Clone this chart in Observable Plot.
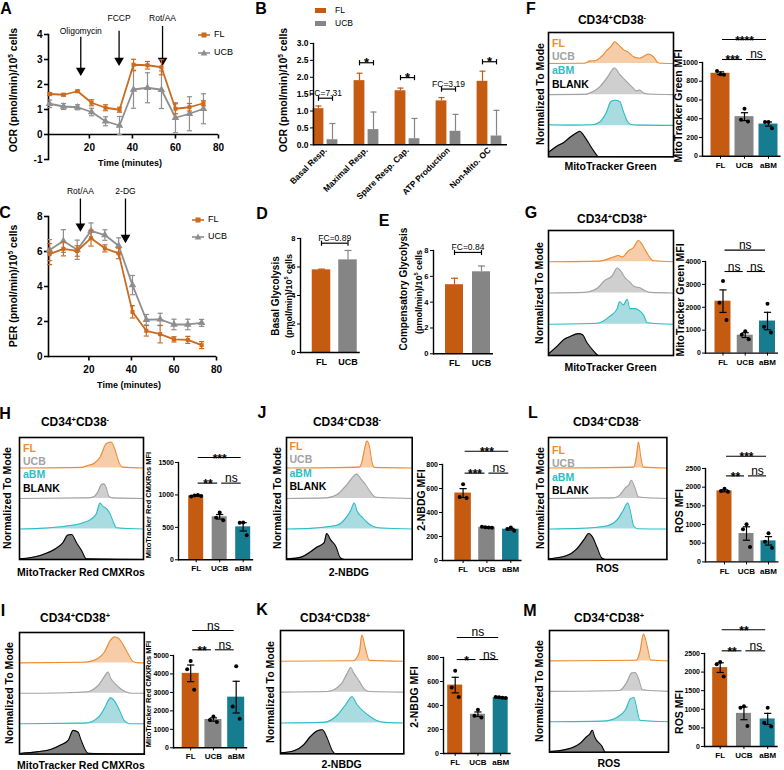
<!DOCTYPE html>
<html><head><meta charset="utf-8">
<script src="https://cdn.jsdelivr.net/npm/d3@7"></script>
<script src="https://cdn.jsdelivr.net/npm/@observablehq/plot@0.6"></script>
<style>
body{margin:0;background:#fff;}
#fig{position:relative;width:784px;height:770px;overflow:hidden;background:#fff;font-family:"Liberation Sans",Arial,Helvetica,sans-serif;}
.t{position:absolute;white-space:nowrap;line-height:1;}
sup{font-size:0.62em;vertical-align:0.55em;line-height:0;}
</style></head><body><div id="fig"></div><script>
// ================= DATA =================
const timeMin = [1.5, 8, 14.5, 21, 27.5, 34, 40.5, 47, 53.5, 60, 66.5, 73];
const ocrFL     = [1.62, 1.59, 1.73, 1.27, 1.07, 0.99, 2.79, 2.77, 2.69, 1.03, 1.09, 1.25];
const ocrFLsem  = [0.06, 0.05, 0.04, 0.12, 0.12, 0.10, 0.22, 0.15, 0.30, 0.20, 0.15, 0.10];
const ocrUCB    = [1.23, 1.12, 1.09, 0.90, 0.53, 0.36, 1.80, 1.87, 1.79, 0.67, 0.83, 1.03];
const ocrUCBsem = [0.15, 0.12, 0.10, 0.15, 0.18, 0.36, 0.75, 0.60, 0.75, 0.60, 0.68, 0.60];
const perFL     = [5.85, 6.15, 6.03, 6.76, 6.18, 5.89, 2.55, 1.47, 1.28, 0.98, 0.95, 0.65];
const perFLsem  = [0.60, 0.40, 0.30, 0.45, 0.20, 0.30, 0.35, 0.30, 0.50, 0.15, 0.20, 0.20];
const perUCB    = [6.08, 6.60, 6.10, 7.18, 6.94, 6.33, 4.08, 2.10, 2.12, 1.83, 1.83, 1.92];
const perUCBsem = [0.60, 0.65, 0.55, 0.45, 0.30, 0.45, 0.55, 0.30, 0.35, 0.30, 0.30, 0.20];
const injA = [{name: "Oligomycin", t: 16, y1: 3.89, y2: 2.6, ty: 4.13},
              {name: "FCCP", t: 33.8, y1: 4.13, y2: 3.0, ty: 4.63},
              {name: "Rot/AA", t: 54, y1: 4.32, y2: 3.0, ty: 4.63}];
const injC = [{name: "Rot/AA", t: 16, y1: 9.0, y2: 7.5, ty: 9.47},
              {name: "2-DG", t: 37.2, y1: 9.0, y2: 6.85, ty: 9.47}];
const xTicksTime = [20, 40, 60, 80];

const paramCats = ["Basal Resp.", "Maximal Resp.", "Spare Resp. Cap.", "ATP Production", "Non-Mito. OC"];
const paramFL     = [1.07, 1.90, 1.60, 1.30, 1.88];
const paramFLsem  = [0.08, 0.22, 0.08, 0.10, 0.30];
const paramUCB    = [0.15, 0.45, 0.18, 0.40, 0.26];
const paramUCBsem = [0.48, 0.52, 0.60, 0.50, 0.76];
const paramSig = [{i: 0, label: "FC=7.31", y: 1.38}, {i: 1, label: "*", y: 2.43}, {i: 2, label: "*", y: 1.99},
                  {i: 3, label: "FC=3.19", y: 1.65}, {i: 4, label: "*", y: 2.46}];

const glycoCats = ["FL", "UCB"];
const basalGlyco = [5.8, 6.5], basalGlycoSem = [0.05, 0.66];
const compGlyco = [5.35, 6.35], compGlycoSem = [0.5, 0.45];

const groups = ["FL", "UCB", "aBM"];
const mtgDimMean = [885, 422, 343], mtgDimSem = [15, 42, 22], mtgDimPts = [[875, 910, 870], [505, 390, 370], [366, 366, 298]];
const mtgPosMean = [2267, 783, 1400], mtgPosSem = [492, 105, 381], mtgPosPts = [[3150, 2200, 1450], [950, 800, 600], [2150, 1150, 900]];
const cmxDimMean = [988, 663, 508], cmxDimSem = [8, 35, 64], cmxDimPts = [[975, 990, 1000, 985], [730, 650, 610], [575, 570, 380]];
const cmxPosMean = [4033, 1533, 2743], cmxPosSem = [450, 88, 860], cmxPosPts = [[4700, 4250, 3150], [1700, 1500, 1400], [4420, 2240, 1570]];
const nbdgDimMean = [562, 277, 261], nbdgDimSem = [37, 3, 7], nbdgDimPts = [[635, 530, 520], [282, 277, 275, 272], [274, 262, 248]];
const nbdgPosMean = [570, 327, 466], nbdgPosSem = [65, 19, 3], nbdgPosPts = [[690, 550, 470], [365, 315, 300], [470, 468, 465, 462]];
const rosDimMean = [1902, 760, 563], rosDimSem = [25, 180, 113], rosDimPts = [[1960, 1900, 1880], [1010, 875, 400], [770, 540, 380]];
const rosPosMean = [2120, 890, 740], rosPosSem = [130, 170, 150], rosPosPts = [[2270, 2210, 1880], [1080, 1040, 550], [1040, 640, 540]];
const sigF = [{a: "FL", b: "aBM", label: "****", y: 1245}, {a: "FL", b: "UCB", label: "***", y: 1032}, {a: "UCB", b: "aBM", label: "ns", y: 1032}];
const sigG = [{a: "FL", b: "aBM", label: "ns", y: 4498}, {a: "FL", b: "UCB", label: "ns", y: 3563}, {a: "UCB", b: "aBM", label: "ns", y: 3563}];
const sigH = [{a: "FL", b: "aBM", label: "***", y: 1576}, {a: "FL", b: "UCB", label: "**", y: 1182}, {a: "UCB", b: "aBM", label: "ns", y: 1182}];
const sigI = [{a: "FL", b: "aBM", label: "ns", y: 6354}, {a: "FL", b: "UCB", label: "**", y: 5309}, {a: "UCB", b: "aBM", label: "ns", y: 5309}];
const sigJ = [{a: "FL", b: "aBM", label: "***", y: 911}, {a: "FL", b: "UCB", label: "***", y: 728}, {a: "UCB", b: "aBM", label: "ns", y: 728}];
const sigK = [{a: "FL", b: "aBM", label: "ns", y: 967}, {a: "FL", b: "UCB", label: "*", y: 783}, {a: "UCB", b: "aBM", label: "ns", y: 783}];
const sigL = [{a: "FL", b: "aBM", label: "***", y: 2829}, {a: "FL", b: "UCB", label: "**", y: 2302}, {a: "UCB", b: "aBM", label: "ns", y: 2302}];
const sigM = [{a: "FL", b: "aBM", label: "**", y: 3137}, {a: "FL", b: "UCB", label: "**", y: 2572}, {a: "UCB", b: "aBM", label: "ns", y: 2572}];

// Flow histograms: [fluorescence (0-1 of axis), normalized count (0-1 of lane)]
const histF_FL = [[0,0],[0.29,0.01],[0.33,0.08],[0.38,0.1],[0.43,0.25],[0.47,0.44],[0.5,0.55],[0.53,0.7],[0.56,0.6],[0.6,0.45],[0.64,0.36],[0.68,0.22],[0.73,0.17],[0.77,0.25],[0.8,0.31],[0.84,0.22],[0.88,0.02],[1,0]];
const histF_UCB = [[0,0],[0.3,0.01],[0.33,0.05],[0.41,0.25],[0.47,0.55],[0.53,0.86],[0.57,0.65],[0.63,0.4],[0.68,0.2],[0.7,0.12],[0.73,0.15],[0.76,0.05],[0.79,0.02],[1,0]];
const histF_aBM = [[0,0.03],[0.2,0.02],[0.35,0.03],[0.41,0.12],[0.46,0.4],[0.5,0.78],[0.53,0.82],[0.57,0.78],[0.6,0.45],[0.63,0.15],[0.66,0.04],[0.72,0.02],[1,0.01]];
const histF_BLANK = [[0,0.14],[0.07,0.35],[0.12,0.45],[0.17,0.62],[0.23,0.78],[0.25,0.82],[0.28,0.7],[0.32,0.45],[0.36,0.2],[0.4,0.01],[1,0]];
const histG_FL = [[0,0],[0.41,0.02],[0.52,0.15],[0.56,0.2],[0.59,0.15],[0.64,0.35],[0.68,0.45],[0.72,0.68],[0.75,0.55],[0.77,0.4],[0.8,0.2],[0.84,0.03],[1,0]];
const histG_UCB = [[0,0],[0.29,0.02],[0.39,0.15],[0.45,0.4],[0.51,0.55],[0.55,0.8],[0.57,0.75],[0.61,0.5],[0.65,0.35],[0.69,0.2],[0.73,0.17],[0.77,0.08],[0.81,0.02],[1,0]];
const histG_aBM = [[0,0],[0.39,0.03],[0.49,0.25],[0.55,0.5],[0.57,0.72],[0.6,0.62],[0.63,0.8],[0.65,0.5],[0.69,0.5],[0.73,0.43],[0.76,0.3],[0.79,0.05],[1,0]];
const histG_BLANK = [[0,0.05],[0.07,0.3],[0.12,0.5],[0.17,0.6],[0.24,0.7],[0.27,0.67],[0.31,0.4],[0.36,0.15],[0.4,0],[1,0]];
const histH_FL = [[0,0],[0.5,0.02],[0.55,0.08],[0.6,0.15],[0.65,0.35],[0.7,0.8],[0.74,0.85],[0.77,0.6],[0.8,0.2],[0.83,0.03],[1,0]];
const histH_UCB = [[0,0],[0.55,0.02],[0.6,0.06],[0.63,0.2],[0.66,0.45],[0.68,0.48],[0.7,0.35],[0.72,0.08],[0.75,0.02],[1,0]];
const histH_aBM = [[0,0],[0.16,0.02],[0.38,0.1],[0.51,0.2],[0.57,0.3],[0.62,0.5],[0.65,0.85],[0.67,0.75],[0.7,0.68],[0.73,0.5],[0.76,0.2],[0.78,0.04],[1,0]];
const histH_BLANK = [[0,0.02],[0.18,0.15],[0.29,0.35],[0.35,0.55],[0.39,0.8],[0.42,0.82],[0.46,0.55],[0.5,0.3],[0.54,0.02],[1,0]];
const histI_FL = [[0,0],[0.52,0.02],[0.63,0.15],[0.68,0.35],[0.73,0.75],[0.76,0.85],[0.79,0.82],[0.83,0.6],[0.87,0.3],[0.91,0.05],[0.95,0],[1,0]];
const histI_UCB = [[0,0],[0.39,0.02],[0.55,0.05],[0.6,0.15],[0.64,0.3],[0.68,0.55],[0.71,0.7],[0.73,0.5],[0.77,0.3],[0.81,0.15],[0.85,0.05],[0.9,0],[1,0]];
const histI_aBM = [[0,0],[0.53,0.02],[0.63,0.2],[0.68,0.5],[0.71,0.75],[0.73,0.85],[0.76,0.75],[0.8,0.45],[0.84,0.1],[0.88,0],[1,0]];
const histI_BLANK = [[0,0.02],[0.15,0.08],[0.25,0.15],[0.33,0.3],[0.39,0.45],[0.43,0.78],[0.47,0.72],[0.49,0.5],[0.55,0.03],[1,0]];
const histJ_FL = [[0,0],[0.58,0.03],[0.6,0.2],[0.62,0.6],[0.64,0.88],[0.66,0.7],[0.68,0.2],[0.7,0.02],[1,0]];
const histJ_UCB = [[0,0],[0.32,0.02],[0.4,0.12],[0.48,0.45],[0.54,0.75],[0.56,0.8],[0.59,0.65],[0.63,0.45],[0.67,0.2],[0.71,0.04],[1,0]];
const histJ_aBM = [[0,0],[0.19,0.02],[0.4,0.12],[0.47,0.35],[0.51,0.6],[0.54,0.85],[0.56,0.6],[0.6,0.4],[0.64,0.22],[0.69,0.08],[0.75,0.03],[1,0]];
const histJ_BLANK = [[0,0.02],[0.11,0.07],[0.19,0.25],[0.24,0.4],[0.3,0.55],[0.32,0.85],[0.35,0.65],[0.39,0.45],[0.43,0.05],[0.46,0],[1,0]];
const histK_FL = [[0,0],[0.59,0.02],[0.64,0.3],[0.66,0.85],[0.69,0.4],[0.72,0.03],[1,0]];
const histK_UCB = [[0,0],[0.38,0.02],[0.49,0.25],[0.54,0.6],[0.57,0.8],[0.59,0.65],[0.64,0.35],[0.68,0.1],[0.72,0.02],[1,0]];
const histK_aBM = [[0,0],[0.35,0.02],[0.46,0.25],[0.53,0.6],[0.58,0.85],[0.62,0.6],[0.68,0.35],[0.73,0.2],[0.78,0.08],[0.84,0.02],[1,0]];
const histK_BLANK = [[0,0.03],[0.11,0.1],[0.19,0.3],[0.24,0.55],[0.3,0.75],[0.34,0.78],[0.38,0.5],[0.42,0.1],[0.45,0],[1,0]];
const histL_FL = [[0,0],[0.72,0.03],[0.74,0.3],[0.76,0.85],[0.78,0.35],[0.8,0.03],[1,0]];
const histL_UCB = [[0,0],[0.55,0.02],[0.6,0.1],[0.65,0.35],[0.68,0.45],[0.7,0.6],[0.73,0.35],[0.76,0.05],[1,0]];
const histL_aBM = [[0,0],[0.27,0.02],[0.49,0.1],[0.58,0.3],[0.63,0.6],[0.67,0.85],[0.69,0.6],[0.72,0.1],[0.75,0.01],[1,0]];
const histL_BLANK = [[0,0.02],[0.15,0.12],[0.24,0.35],[0.3,0.65],[0.34,0.85],[0.37,0.75],[0.41,0.4],[0.45,0.05],[0.48,0],[1,0]];
const histM_FL = [[0,0],[0.73,0.02],[0.76,0.3],[0.79,0.88],[0.82,0.5],[0.85,0.03],[1,0]];
const histM_UCB = [[0,0],[0.59,0.03],[0.65,0.3],[0.69,0.6],[0.72,0.62],[0.75,0.4],[0.78,0.05],[1,0]];
const histM_aBM = [[0,0],[0.45,0.02],[0.57,0.15],[0.64,0.4],[0.68,0.75],[0.71,0.8],[0.73,0.5],[0.76,0.05],[1,0]];
const histM_BLANK = [[0,0.02],[0.15,0.1],[0.26,0.3],[0.31,0.5],[0.34,0.6],[0.36,0.72],[0.38,0.5],[0.44,0.2],[0.47,0],[1,0]];

// ================= STYLE / HELPERS =================
const FONT = "Liberation Sans, Arial, Helvetica, sans-serif";
const C_FL_LINE = "#CC6A1E", C_UCB_LINE = "#8E8E8E";
const BAR_FL = "#C55A11", BAR_UCB = "#858585", BAR_ABM = "#167C90";
const HCOL = {FL: ["#EE8B30", "#F6CDA8"], UCB: ["#A3A3A3", "#CFCFCF"], aBM: ["#2DBDC7", "#A8DCE1"], BLANK: ["#000000", "#7F7F7F"]};
const fig = document.getElementById("fig");

const hCap = {draw(ctx, size) { const r = Math.sqrt(size / Math.PI); ctx.moveTo(-r, 0); ctx.lineTo(r, 0); }};
const vCap = {draw(ctx, size) { const r = Math.sqrt(size / Math.PI); ctx.moveTo(0, -r); ctx.lineTo(0, r); }};
const vDown = {draw(ctx, size) { const r = Math.sqrt(size / Math.PI); ctx.moveTo(0, 0); ctx.lineTo(0, r); }};

function txt(x, y, s, opt = {}) {
  const {size = 10, weight = "bold", color = "#000", rot = false, anchor = "middle"} = opt;
  const d = document.createElement("div");
  d.className = "t";
  d.innerHTML = s;
  Object.assign(d.style, {left: x + "px", top: y + "px", fontSize: size + "px", fontWeight: weight, color});
  const tx = anchor === "start" ? "0" : anchor === "end" ? "-100%" : "-50%";
  d.style.transform = `translate(${tx},-50%)` + (rot ? " rotate(-90deg)" : "");
  fig.appendChild(d);
  return d;
}
function frameBox(fl, ft, fr, fb, m) {
  const [mt, mr, mb, ml] = m;
  return {left: fl - ml, top: ft - mt, width: fr - fl + ml + mr, height: fb - ft + mt + mb,
          marginTop: mt, marginRight: mr, marginBottom: mb, marginLeft: ml};
}
function plotAt(box, opts) {
  const {style, ...rest} = opts;
  const p = Plot.plot({width: box.width, height: box.height, marginTop: box.marginTop, marginRight: box.marginRight,
    marginBottom: box.marginBottom, marginLeft: box.marginLeft, ...rest,
    style: Object.assign({fontFamily: FONT, fontSize: "9px", fontWeight: "bold", background: "none", overflow: "visible", color: "#000"}, style || {})});
  p.style.position = "absolute"; p.style.left = box.left + "px"; p.style.top = box.top + "px";
  fig.appendChild(p);
  return p;
}

// ---------- Seahorse time course ----------
function timeCourse(o) {
  const box = frameBox(o.fl, o.ft, o.fr, o.fb, [34, 6, 22, 36]);
  const marks = [
    Plot.ruleY([0], {strokeWidth: 1.6}),
    Plot.frame({anchor: "left", strokeWidth: 1.6}),
    Plot.dot(xTicksTime, {x: d => d, y: 0, symbol: vDown, r: 4, stroke: "#000", strokeWidth: 1.6}),
    Plot.text(xTicksTime, {x: d => d, y: 0, dy: 13, text: d => String(d), fontSize: 10}),
    Plot.axisY({ticks: o.yTicks, tickSize: 4, tickPadding: 2, tickFormat: d => String(d), fontSize: 10, strokeWidth: 1.6, label: null}),
    Plot.ruleX(o.inj, {x: "t", y1: "y1", y2: "y2", strokeWidth: 1.3}),
    Plot.dot(o.inj, {x: "t", y: "y2", symbol: "triangle", rotate: 180, r: 3.6, fill: "#000", dy: 1}),
    Plot.text(o.inj, {x: "t", y: "ty", text: "name", fontWeight: "normal", fontSize: 8.5})
  ];
  for (const s of o.series) {
    const r = o.times.map((t, i) => ({t, v: s.v[i], e: s.e[i]}));
    marks.push(
      Plot.ruleX(r, {x: "t", y1: d => d.v - d.e, y2: d => d.v + d.e, stroke: s.color, strokeWidth: 1.2}),
      Plot.dot(r, {x: "t", y: d => d.v + d.e, symbol: hCap, r: 2.6, stroke: s.color, strokeWidth: 1.2}),
      Plot.dot(r, {x: "t", y: d => d.v - d.e, symbol: hCap, r: 2.6, stroke: s.color, strokeWidth: 1.2}),
      Plot.line(r, {x: "t", y: "v", stroke: s.color, strokeWidth: 1.8}),
      Plot.dot(r, {x: "t", y: "v", symbol: s.sym, r: s.r, fill: s.color})
    );
  }
  plotAt(box, {x: {domain: [1, 80], axis: null}, y: {domain: o.yDom}, marks});
}
function lineLegend(x, y, color, sym, label) {
  const mk = sym === "square" ? `<rect x="3.5" y="1.5" width="5" height="5" fill="${color}"/>`
                              : `<path d="M6,0.5 L9.3,6.5 L2.7,6.5 Z" fill="${color}"/>`;
  const d = document.createElement("div");
  d.className = "t";
  d.innerHTML = `<svg width="12" height="8" style="vertical-align:middle"><line x1="0" y1="4" x2="12" y2="4" stroke="${color}" stroke-width="1.6"/>${mk}</svg><span style="font-size:9px;margin-left:4px;vertical-align:middle">${label}</span>`;
  Object.assign(d.style, {left: x + "px", top: y + "px", transform: "translate(0,-50%)"});
  fig.appendChild(d);
}

// ---------- Grouped bar chart B ----------
function paramChart() {
  const c0 = 325, step = 41, fl = 313, fr = 507;
  const box = frameBox(fl, 42.7, fr, 144, [10, 4, 60, 30]);
  const off = 7 / step, hw = 5.4 / step;
  const fl_ = paramFL.map((v, i) => ({i, v, e: paramFLsem[i]}));
  const ucb_ = paramUCB.map((v, i) => ({i, v, e: paramUCBsem[i]}));
  const half = 7 / step;
  const marks = [
    Plot.rectY(fl_, {x1: d => d.i - off - hw, x2: d => d.i - off + hw, y: "v", fill: BAR_FL}),
    Plot.rectY(ucb_, {x1: d => d.i + off - hw, x2: d => d.i + off + hw, y: "v", fill: BAR_UCB}),
    Plot.ruleX(fl_, {x: d => d.i - off, y1: "v", y2: d => d.v + d.e, stroke: BAR_FL, strokeWidth: 1.2}),
    Plot.dot(fl_, {x: d => d.i - off, y: d => d.v + d.e, symbol: hCap, r: 3, stroke: BAR_FL, strokeWidth: 1.2}),
    Plot.ruleX(ucb_, {x: d => d.i + off, y1: "v", y2: d => d.v + d.e, stroke: BAR_UCB, strokeWidth: 1.2}),
    Plot.dot(ucb_, {x: d => d.i + off, y: d => d.v + d.e, symbol: hCap, r: 3, stroke: BAR_UCB, strokeWidth: 1.2}),
    Plot.frame({anchor: "left", strokeWidth: 1.4}),
    Plot.ruleY([0], {strokeWidth: 1.4}),
    Plot.axisY({ticks: [0, 0.5, 1, 1.5, 2, 2.5, 3], tickFormat: d => d.toFixed(1), tickSize: 3, tickPadding: 2, fontSize: 8.5, label: null}),
    Plot.axisX({ticks: [0, 1, 2, 3, 4], tickFormat: i => paramCats[i], tickRotate: -45, tickSize: 0, tickPadding: 4, fontSize: 8.5, label: null}),
    Plot.ruleY(paramSig, {y: "y", x1: d => d.i - half, x2: d => d.i + half, strokeWidth: 1.2}),
    Plot.dot(paramSig, {x: d => d.i - half, y: "y", symbol: vCap, r: 2.6, stroke: "#000", strokeWidth: 1.2}),
    Plot.dot(paramSig, {x: d => d.i + half, y: "y", symbol: vCap, r: 2.6, stroke: "#000", strokeWidth: 1.2}),
    Plot.text(paramSig.filter(d => d.label !== "*"), {x: "i", y: "y", text: "label", lineAnchor: "bottom", dy: -2, fontWeight: "normal", fontSize: 8.5}),
    Plot.text(paramSig.filter(d => d.label === "*"), {x: "i", y: "y", text: "label", lineAnchor: "bottom", dy: 4, fontSize: 13})
  ];
  plotAt(box, {x: {domain: [(fl - c0) / step, (fr - c0) / step]}, y: {domain: [0, 3]}, marks});
}

// ---------- Two-bar glycolysis charts ----------
function glycoChart(o) {
  const step = o.centers[1] - o.centers[0], c0 = o.centers[0];
  const fl = o.axisX, fr = o.centers[1] + o.bw / 2 + 3;
  const box = frameBox(fl, o.yTop, fr, o.y0, [30, 4, 18, 20]);
  const hw = o.bw / 2 / step;
  const rows = o.vals.map((v, i) => ({i, v, e: o.sems[i], c: i === 0 ? BAR_FL : BAR_UCB}));
  const br = [{i0: 0, i1: 1, y: o.brY, label: o.fc}];
  const marks = [
    Plot.rectY(rows, {x1: d => d.i - hw, x2: d => d.i + hw, y: "v", fill: "c"}),
    Plot.ruleX(rows, {x: "i", y1: "v", y2: d => d.v + d.e, stroke: "c", strokeWidth: 1.2}),
    Plot.dot(rows, {x: "i", y: d => d.v + d.e, symbol: hCap, r: 3.5, stroke: "c", strokeWidth: 1.2}),
    Plot.frame({anchor: "left", strokeWidth: 1.4}),
    Plot.ruleY([0], {strokeWidth: 1.4}),
    Plot.axisY({ticks: [0, 2, 4, 6, 8], tickSize: 3, tickPadding: 2, fontSize: 7.5, label: null}),
    Plot.axisX({ticks: [0, 1], tickFormat: i => glycoCats[i], tickSize: 0, tickPadding: 6, fontSize: 9, label: null}),
    Plot.ruleY(br, {y: "y", x1: "i0", x2: "i1", strokeWidth: 1.2}),
    Plot.dot(br, {x: "i0", y: "y", symbol: vCap, r: 2.6, stroke: "#000", strokeWidth: 1.2}),
    Plot.dot(br, {x: "i1", y: "y", symbol: vCap, r: 2.6, stroke: "#000", strokeWidth: 1.2}),
    Plot.text(br, {x: d => (d.i0 + d.i1) / 2, y: "y", text: "label", lineAnchor: "bottom", dy: -2, fontWeight: "normal", fontSize: 8.5})
  ];
  plotAt(box, {x: {domain: [(fl - c0) / step, (fr - c0) / step]}, y: {domain: [0, 8]}, color: {type: "identity"}, marks});
}

// ---------- MFI bar charts ----------
const JIT = {3: [0, -3.5, 3.5], 4: [-5, -1.7, 1.7, 5]};
function mfiChart(o) {
  const step = (o.centers[2] - o.centers[0]) / 2, c0 = o.centers[0];
  const fl = o.axisX, fr = o.centers[2] + o.bw / 2 + 3;
  const box = frameBox(fl, o.yTop, fr, o.y0, [46, 4, 18, 30]);
  const hw = o.bw / 2 / step;
  const colors = [BAR_FL, BAR_UCB, BAR_ABM];
  const rows = groups.map((g, i) => ({i, v: o.mean[i], e: o.sem[i], c: colors[i]}));
  const pts = [];
  o.pts.forEach((arr, i) => arr.forEach((v, k) => pts.push({i, v, j: JIT[arr.length][k]})));
  const sig = o.sig.map(d => ({...d, ia: groups.indexOf(d.a), ib: groups.indexOf(d.b)}));
  const gap = 2 / step;
  const isNs = d => d.label === "ns";
  const marks = [
    Plot.rectY(rows, {x1: d => d.i - hw, x2: d => d.i + hw, y: "v", fill: "c"}),
    Plot.ruleX(rows, {x: "i", y1: d => d.v - d.e, y2: d => d.v + d.e, strokeWidth: 1.2}),
    Plot.dot(rows, {x: "i", y: d => d.v + d.e, symbol: hCap, r: 3.6, stroke: "#000", strokeWidth: 1.2}),
    Plot.dot(rows, {x: "i", y: d => d.v - d.e, symbol: hCap, r: 3.6, stroke: "#000", strokeWidth: 1.2}),
    Plot.dot(pts, {x: d => d.i + d.j / step, y: "v", r: 2, fill: "#000"}),
    Plot.frame({anchor: "left", strokeWidth: 1.4}),
    Plot.ruleY([0], {strokeWidth: 1.4}),
    Plot.axisY({ticks: o.yTicks, tickFormat: d => String(d), tickSize: 3, tickPadding: 1.5, fontSize: 7, label: null}),
    Plot.axisX({ticks: [0, 1, 2], tickFormat: i => groups[i], tickSize: 3, tickPadding: 3, fontSize: 8, label: null}),
    Plot.ruleY(sig, {y: "y", x1: d => d.ia + gap, x2: d => d.ib - gap, strokeWidth: 1.1}),
    Plot.text(sig.filter(isNs), {x: d => (d.ia + d.ib) / 2, y: "y", text: "label", lineAnchor: "bottom", dy: -1, fontWeight: "normal", fontSize: 12}),
    Plot.text(sig.filter(d => !isNs(d)), {x: d => (d.ia + d.ib) / 2, y: "y", text: "label", lineAnchor: "bottom", dy: 5, fontSize: 12})
  ];
  plotAt(box, {x: {domain: [(fl - c0) / step, (fr - c0) / step]}, y: {domain: [0, o.yMax]}, color: {type: "identity"}, marks});
}

// ---------- Histogram stacks ----------
function histStack(o) {
  const box = frameBox(o.fl, o.ft, o.fr, o.fb, [2, 2, 2, 2]);
  const keys = ["FL", "UCB", "aBM", "BLANK"];
  const marks = [];
  o.curves.forEach((c, k) => {
    const base = 3 - k;
    const d = c.map(([x, h]) => ({x, y1: base, y2: base + h}));
    const [line, fill] = HCOL[keys[k]];
    marks.push(Plot.areaY(d, {x: "x", y1: "y1", y2: "y2", fill, curve: "monotone-x"}));
    marks.push(Plot.lineY(d, {x: "x", y: "y2", stroke: line, strokeWidth: 1.1, curve: "monotone-x"}));
  });
  marks.push(Plot.frame({stroke: "#000", strokeWidth: 1.6}));
  plotAt(box, {x: {domain: [0, 1], axis: null}, y: {domain: [0, 4], axis: null}, marks});
  if (o.labels) {
    const [fx, fy, dy] = o.labels;
    txt(fx, fy, "FL", {size: 10.5, color: HCOL.FL[0], anchor: "start"});
    txt(fx, fy + dy, "UCB", {size: 10.5, color: HCOL.UCB[0], anchor: "start"});
    txt(fx, fy + 2 * dy, "aBM", {size: 10.5, color: HCOL.aBM[0], anchor: "start"});
    txt(fx, fy + 3 * dy, "BLANK", {size: 10.5, color: "#000", anchor: "start"});
  }
  txt((o.fl + o.fr) / 2, o.xlabY, o.xlab, {size: 10.5});
  txt(o.ylabX, (o.ft + o.fb) / 2, "Normalized To Mode", {size: 10.5, rot: true});
  txt(o.titleX, o.titleY, o.title, {size: 12});
}

// ================= DRAW =================
[["A", 6, 9], ["B", 261, 9], ["C", 5, 213], ["D", 262, 214], ["E", 384, 221], ["F", 531, 9], ["G", 531, 213],
 ["H", 5, 414], ["I", 3, 611], ["J", 262, 413], ["K", 262, 610], ["L", 533, 413], ["M", 530, 611]]
  .forEach(([s, x, y]) => txt(x, y, s, {size: 16}));

// A
timeCourse({fl: 48, ft: 34, fr: 218, fb: 159, yDom: [-1, 4], yTicks: [-1, 0, 1, 2, 3, 4], inj: injA, times: timeMin,
  series: [{v: ocrUCB, e: ocrUCBsem, color: C_UCB_LINE, sym: "triangle", r: 2.8}, {v: ocrFL, e: ocrFLsem, color: C_FL_LINE, sym: "square", r: 2.3}]});
txt(130, 163, "Time (minutes)", {size: 9});
txt(13, 90, "OCR (pmol/min)/10<sup>5</sup> cells", {size: 10.5, rot: true});
lineLegend(198, 34, C_FL_LINE, "square", "FL");
lineLegend(198, 52, C_UCB_LINE, "triangle", "UCB");

// C
timeCourse({fl: 48, ft: 215.7, fr: 216, fb: 355.7, yDom: [0, 8], yTicks: [0, 2, 4, 6, 8], inj: injC, times: timeMin,
  series: [{v: perUCB, e: perUCBsem, color: C_UCB_LINE, sym: "triangle", r: 2.8}, {v: perFL, e: perFLsem, color: C_FL_LINE, sym: "square", r: 2.3}]});
txt(129, 385, "Time (minutes)", {size: 9});
txt(13, 286, "PER (pmol/min)/10<sup>5</sup> cells", {size: 10.5, rot: true});
lineLegend(192, 219, C_FL_LINE, "square", "FL");
lineLegend(192, 236, C_UCB_LINE, "triangle", "UCB");

// B
paramChart();
txt(283, 90, "OCR (pmol/min)/10<sup>5</sup> cells", {size: 10.5, rot: true});
(function () {
  const l = document.createElement("div");
  l.className = "t";
  l.innerHTML = `<div style="display:flex;align-items:center;height:13px"><span style="display:inline-block;width:11px;height:5px;background:${BAR_FL}"></span><span style="font-size:8.5px;font-weight:normal;margin-left:9px">FL</span></div>
  <div style="display:flex;align-items:center;height:13px"><span style="display:inline-block;width:11px;height:5px;background:${BAR_UCB}"></span><span style="font-size:8.5px;font-weight:normal;margin-left:9px">UCB</span></div>`;
  Object.assign(l.style, {left: "315px", top: "4px"});
  fig.appendChild(l);
})();

// D, E
glycoChart({axisX: 300, y0: 352, yTop: 238, centers: [321, 347.5], bw: 18.5, vals: basalGlyco, sems: basalGlycoSem, brY: 7.67, fc: "FC=0.89"});
txt(276, 296, "Basal Glycolysis", {size: 10, rot: true});
txt(288.5, 296, "(pmol/min)/10<sup>5</sup> cells", {size: 9, rot: true});
glycoChart({axisX: 433, y0: 353.3, yTop: 250, centers: [454, 481], bw: 18, vals: compGlyco, sems: compGlycoSem, brY: 7.85, fc: "FC=0.84"});
txt(403.5, 289, "Compensatory Glycolysis", {size: 10, rot: true});
txt(419, 292, "(pmol/min)/10<sup>5</sup> cells", {size: 9, rot: true});

// F, G
histStack({fl: 548, ft: 31.7, fr: 673, fb: 156, curves: [histF_FL, histF_UCB, histF_aBM, histF_BLANK], labels: [552, 42.7, 13.6],
  xlab: "MitoTracker Green", xlabY: 166, ylabX: 540, title: "CD34<sup>+</sup>CD38<sup>-</sup>", titleX: 612, titleY: 20});
mfiChart({axisX: 702, y0: 156, yTop: 62.3, yMax: 1000, yTicks: [0, 200, 400, 600, 800, 1000], centers: [720, 745.5, 768], bw: 19,
  mean: mtgDimMean, sem: mtgDimSem, pts: mtgDimPts, sig: sigF});
txt(678, 106, "MitoTracker Green MFI", {size: 10.5, rot: true});
histStack({fl: 548, ft: 230, fr: 673, fb: 355, curves: [histG_FL, histG_UCB, histG_aBM, histG_BLANK],
  xlab: "MitoTracker Green", xlabY: 366.7, ylabX: 538.5, title: "CD34<sup>+</sup>CD38<sup>+</sup>", titleX: 612, titleY: 219});
mfiChart({axisX: 705, y0: 352.3, yTop: 260.7, yMax: 4000, yTicks: [0, 1000, 2000, 3000, 4000], centers: [722.5, 745, 767], bw: 16,
  mean: mtgPosMean, sem: mtgPosSem, pts: mtgPosPts, sig: sigG});
txt(680, 300, "MitoTracker Green MFI", {size: 10.5, rot: true});

// H, I
histStack({fl: 19, ft: 437, fr: 143, fb: 559, curves: [histH_FL, histH_UCB, histH_aBM, histH_BLANK], labels: [23, 448, 13.2],
  xlab: "MitoTracker Red CMXRos", xlabY: 572, ylabX: 7, title: "CD34<sup>+</sup>CD38<sup>-</sup>", titleX: 75, titleY: 421.7});
mfiChart({axisX: 178.3, y0: 559, yTop: 461.7, yMax: 1500, yTicks: [0, 500, 1000, 1500], centers: [196, 219.5, 243], bw: 15,
  mean: cmxDimMean, sem: cmxDimSem, pts: cmxDimPts, sig: sigH});
txt(149, 505, "MitoTracker Red CMXRos MFI", {size: 7.5, rot: true});
histStack({fl: 18.5, ft: 631.7, fr: 143.3, fb: 753.3, curves: [histI_FL, histI_UCB, histI_aBM, histI_BLANK],
  xlab: "MitoTracker Red CMXRos", xlabY: 765, ylabX: 9, title: "CD34<sup>+</sup>CD38<sup>+</sup>", titleX: 75, titleY: 618});
mfiChart({axisX: 173.3, y0: 747.3, yTop: 655, yMax: 5000, yTicks: [0, 1000, 2000, 3000, 4000, 5000], centers: [190.5, 213.3, 236], bw: 17,
  mean: cmxPosMean, sem: cmxPosSem, pts: cmxPosPts, sig: sigI});
txt(149, 694, "MitoTracker Red CMXRos MFI", {size: 7.5, rot: true});

// J, K
histStack({fl: 286, ft: 437, fr: 411.7, fb: 559, curves: [histJ_FL, histJ_UCB, histJ_aBM, histJ_BLANK], labels: [289.5, 446, 13.3],
  xlab: "2-NBDG", xlabY: 571.7, ylabX: 276.7, title: "CD34<sup>+</sup>CD38<sup>-</sup>", titleX: 347, titleY: 421.7});
mfiChart({axisX: 441.7, y0: 560, yTop: 464, yMax: 800, yTicks: [0, 200, 400, 600, 800], centers: [462.3, 487, 510], bw: 16.5,
  mean: nbdgDimMean, sem: nbdgDimSem, pts: nbdgDimPts, sig: sigJ});
txt(421, 500, "2-NBDG MFI", {size: 10.5, rot: true});
histStack({fl: 280, ft: 630, fr: 403.3, fb: 753.3, curves: [histK_FL, histK_UCB, histK_aBM, histK_BLANK],
  xlab: "2-NBDG", xlabY: 764, ylabX: 270, title: "CD34<sup>+</sup>CD38<sup>+</sup>", titleX: 335, titleY: 618});
mfiChart({axisX: 443.3, y0: 753.3, yTop: 657.3, yMax: 800, yTicks: [0, 200, 400, 600, 800], centers: [455, 478.5, 500.5], bw: 15,
  mean: nbdgPosMean, sem: nbdgPosSem, pts: nbdgPosPts, sig: sigK});
txt(414, 697, "2-NBDG MFI", {size: 10.5, rot: true});

// L, M
histStack({fl: 548.3, ft: 437, fr: 666.7, fb: 559, curves: [histL_FL, histL_UCB, histL_aBM, histL_BLANK], labels: [552, 450, 13.4],
  xlab: "ROS", xlabY: 568.3, ylabX: 540, title: "CD34<sup>+</sup>CD38<sup>-</sup>", titleX: 607, titleY: 421.7});
mfiChart({axisX: 705, y0: 561.7, yTop: 468.3, yMax: 2500, yTicks: [0, 500, 1000, 1500, 2000, 2500], centers: [724, 746, 768], bw: 15,
  mean: rosDimMean, sem: rosDimSem, pts: rosDimPts, sig: sigL});
txt(679.3, 511, "ROS MFI", {size: 10.5, rot: true});
histStack({fl: 549.3, ft: 630, fr: 668.3, fb: 751.7, curves: [histM_FL, histM_UCB, histM_aBM, histM_BLANK],
  xlab: "ROS", xlabY: 763.3, ylabX: 539.3, title: "CD34<sup>+</sup>CD38<sup>+</sup>", titleX: 609, titleY: 618});
mfiChart({axisX: 704.3, y0: 745.7, yTop: 652.7, yMax: 2500, yTicks: [0, 500, 1000, 1500, 2000, 2500], centers: [720, 745.8, 767.5], bw: 15,
  mean: rosPosMean, sem: rosPosSem, pts: rosPosPts, sig: sigM});
txt(679.3, 712, "ROS MFI", {size: 10.5, rot: true});
</script></body></html>
